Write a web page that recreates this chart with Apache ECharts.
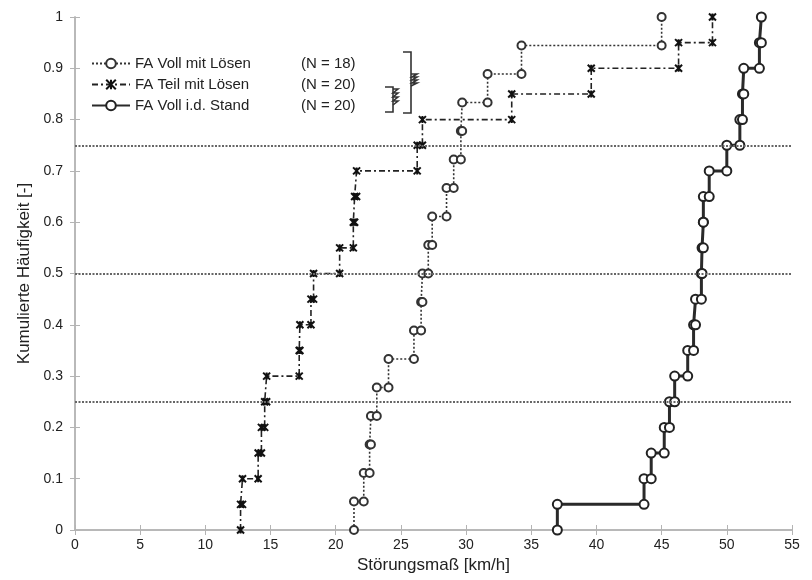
<!DOCTYPE html>
<html><head><meta charset="utf-8">
<script src="https://cdn.jsdelivr.net/npm/echarts@6/dist/echarts.min.js"></script>
<style>html,body{margin:0;padding:0;background:#fff}#c{width:812px;height:580px}</style>
</head><body><div id="c"></div>
<script>
// ---- data ----
const seriesNames = ['FA Voll mit Lösen', 'FA Teil mit Lösen', 'FA Voll i.d. Stand'];
const seriesCounts = ['(N = 18)', '(N = 20)', '(N = 20)'];
const vollLoesen = [21.4, 22.15, 22.6, 22.7, 23.15, 24.05, 26.0, 26.55, 26.65, 27.1, 27.4, 28.5, 29.05, 29.6, 29.7, 31.65, 34.25, 45.0];
const teilLoesen = [12.7, 12.85, 14.05, 14.3, 14.55, 14.7, 17.2, 17.25, 18.1, 18.3, 20.3, 21.35, 21.45, 21.6, 26.25, 26.65, 33.5, 39.6, 46.3, 48.9];
const vollStand = [37.0, 43.65, 44.2, 45.2, 45.6, 46.0, 47.0, 47.45, 47.6, 48.05, 48.1, 48.2, 48.2, 48.65, 50.0, 51.0, 51.2, 51.3, 52.5, 52.65];
const refLevels = [0.25, 0.5, 0.75];
const xTicks = {min: 0, max: 55, interval: 5};
const yTicks = {min: 0, max: 1, interval: 0.1};

function steps(xs) {
  const n = xs.length, pts = [];
  xs.forEach((x, i) => { pts.push([x, i / n]); pts.push([x, (i + 1) / n]); });
  return pts;
}

const FONT = 'Liberation Sans, Arial, sans-serif';
const axisGray = '#b4b4b4';
const chart = echarts.init(document.getElementById('c'));
const nameMap = {};
seriesNames.forEach((n, i) => nameMap[n] = seriesCounts[i]);

const baseAxis = {
  axisLine: {show: true, lineStyle: {color: axisGray, width: 1.5}},
  axisTick: {show: true, inside: true, length: 5, lineStyle: {color: axisGray}},
  splitLine: {show: false}
};

chart.setOption({
  animation: false,
  backgroundColor: '#fff',
  grid: {left: 75, right: 20, top: 17, bottom: 50, containLabel: false},
  legend: {
    orient: 'vertical', left: 86, top: 51, itemWidth: 38, itemHeight: 12, itemGap: 6,
    data: seriesNames,
    formatter: n => '{a|' + n + '}{b|' + nameMap[n] + '}',
    textStyle: {fontFamily: FONT, fontSize: 15, color: '#222',
      rich: {a: {width: 166, fontFamily: FONT, fontSize: 15, color: '#222'},
             b: {fontFamily: FONT, fontSize: 15, color: '#222'}}}
  },
  xAxis: [
    Object.assign({}, baseAxis, {type: 'value', min: xTicks.min, max: xTicks.max, interval: xTicks.interval,
      name: 'Störungsmaß [km/h]', nameLocation: 'middle', nameGap: 27,
      nameTextStyle: {fontFamily: FONT, fontSize: 17, color: '#222'},
      axisLabel: {fontFamily: FONT, fontSize: 14, color: '#222', margin: 8}}),
    Object.assign({}, baseAxis, {type: 'value', position: 'top', min: xTicks.min, max: xTicks.max, interval: xTicks.interval,
      axisLabel: {show: false}})
  ],
  yAxis: [
    Object.assign({}, baseAxis, {type: 'value', min: yTicks.min, max: yTicks.max, interval: yTicks.interval,
      name: 'Kumulierte Häufigkeit [-]', nameLocation: 'middle', nameGap: 38,
      nameTextStyle: {fontFamily: FONT, fontSize: 17, color: '#222'},
      axisLabel: {fontFamily: FONT, fontSize: 14, color: '#222', margin: 12}}),
    Object.assign({}, baseAxis, {type: 'value', position: 'right', min: yTicks.min, max: yTicks.max, interval: yTicks.interval,
      axisLabel: {show: false}})
  ],
  series: [
    {
      name: seriesNames[0], type: 'line', data: steps(vollLoesen), z: 3,
      symbol: 'emptyCircle', symbolSize: 8, showAllSymbol: true,
      lineStyle: {color: '#333', width: 1.6, type: [2, 2]},
      itemStyle: {color: '#333', borderWidth: 1.6},
      markLine: {silent: true, symbol: 'none', label: {show: false},
        lineStyle: {color: '#666', width: 2.2, type: [2, 1.5]},
        data: refLevels.map(v => ({yAxis: v}))}
    },
    {
      name: seriesNames[1], type: 'line', data: steps(teilLoesen), z: 3,
      symbol: 'path://M0,0 L10,10 M10,0 L0,10 M5,0 L5,10', symbolSize: 7, showAllSymbol: true,
      lineStyle: {color: '#222', width: 1.6, type: [6, 3, 2, 3]},
      itemStyle: {color: '#111', borderColor: '#111', borderWidth: 2}
    },
    {
      name: seriesNames[2], type: 'line', data: steps(vollStand), z: 4,
      symbol: 'emptyCircle', symbolSize: 9, showAllSymbol: true,
      lineStyle: {color: '#2a2a2a', width: 3},
      itemStyle: {color: '#222', borderWidth: 2}
    }
  ],
  graphic: [
    {type: 'polyline', shape: {points: [[403, 52], [411, 52], [411, 113], [403, 113]]}, style: {stroke: '#333', lineWidth: 1.6, fill: null}},
    {type: 'polyline', shape: {points: [[411, 74], [417, 74], [412, 77], [417, 77], [412, 80], [417, 80], [412, 83], [417, 83], [411, 86]]}, style: {stroke: '#333', lineWidth: 1.6, fill: null}},
    {type: 'polyline', shape: {points: [[385, 87], [393, 87], [393, 112], [385, 112]]}, style: {stroke: '#333', lineWidth: 1.6, fill: null}},
    {type: 'polyline', shape: {points: [[393, 89], [398, 89], [393, 93], [398, 93], [393, 97], [398, 97], [393, 101], [398, 101], [393, 105]]}, style: {stroke: '#333', lineWidth: 1.6, fill: null}}
  ]
});
</script></body></html>
